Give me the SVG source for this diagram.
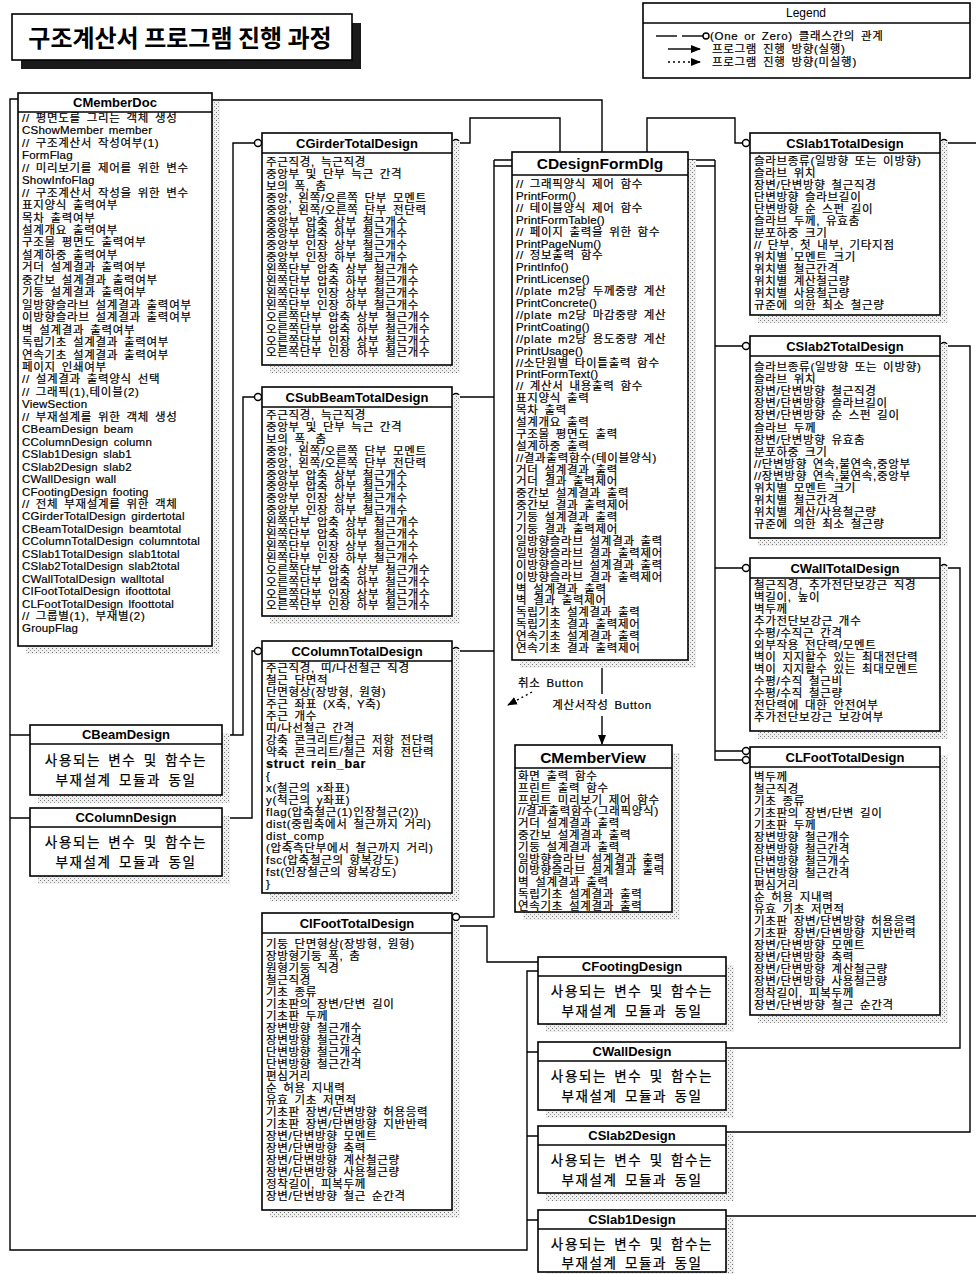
<svg xmlns="http://www.w3.org/2000/svg" width="976" height="1274" viewBox="0 0 976 1274">
<style>
.box{fill:#fff;stroke:#000;stroke-width:1.6}
.sh{fill:url(#dots)}
.hl{stroke:#000;stroke-width:1.4}
.hd{font-family:"Liberation Sans","Noto Sans CJK KR",sans-serif;font-weight:bold;font-size:13px;text-anchor:middle}
.hb{font-family:"Liberation Sans","Noto Sans CJK KR",sans-serif;font-weight:bold;font-size:15.5px;text-anchor:middle}
.t{font-family:"Liberation Sans","Noto Sans CJK KR",sans-serif;font-size:11.5px;word-spacing:2px;letter-spacing:0.7px;stroke:#000;stroke-width:0.2}
.la{letter-spacing:0.2px}
.tc{font-family:"Liberation Sans","Noto Sans CJK KR",sans-serif;font-size:13.5px;text-anchor:middle;word-spacing:2px;letter-spacing:1.6px;stroke:#000;stroke-width:0.25}
.ln{fill:none;stroke:#000;stroke-width:1.4}
.cir{fill:#fff;stroke:#000;stroke-width:1.4}
</style>
<defs>
<pattern id="dots" width="4" height="4" patternUnits="userSpaceOnUse"><rect width="4" height="4" fill="#efefef"/><rect width="1" height="1" fill="#777"/><rect x="2" y="2" width="1" height="1" fill="#999"/></pattern>
<marker id="ah" markerWidth="10" markerHeight="10" refX="9" refY="5" orient="auto" markerUnits="userSpaceOnUse"><path d="M0,1 L10,5 L0,9 Z" fill="#000"/></marker>
</defs>

<g id="title">
<rect x="21" y="23" width="340" height="46" fill="#1a1a1a"/>
<rect x="12" y="14" width="340" height="46" class="box"/>
<text x="180" y="47" font-family="'Noto Sans CJK KR',sans-serif" font-weight="bold" font-size="24" text-anchor="middle">구조계산서 프로그램 진행 과정</text>
</g>

<g id="legend">
<rect x="643" y="3" width="327" height="75" class="box"/>
<line x1="643" y1="23" x2="970" y2="23" class="hl"/>
<text x="806" y="17" font-family="Liberation Sans,sans-serif" font-size="12" text-anchor="middle">Legend</text>
<line x1="656" y1="36" x2="677" y2="36" class="ln"/>
<line x1="682" y1="36" x2="703" y2="36" class="ln"/>
<circle cx="706" cy="36" r="3" class="cir"/>
<text x="710" y="40" class="t">(One or Zero) 클래스간의 관계</text>
<line x1="668" y1="49" x2="700" y2="49" class="ln" marker-end="url(#ah)"/>
<text x="712" y="53" class="t">프로그램 진행 방향(실행)</text>
<line x1="668" y1="62" x2="700" y2="62" class="ln" stroke-dasharray="2,3" marker-end="url(#ah)"/>
<text x="712" y="66" class="t">프로그램 진행 방향(미실행)</text>
</g>

<g id="connectors">
<path class="ln" d="M18,99 H10 V1250 H527 V971 H538"/>
<path class="ln" d="M527,1052 H538 M527,1136 H538 M527,1220 H538"/>
<path class="ln" d="M10,735 H30 M10,818 H30"/>
<path class="ln" d="M222,735 H243 V397 H254.5 M233,735 V143 H254.5"/>
<path class="ln" d="M222,818 H252 V651 H254.5"/>
<path class="ln" d="M459.5,143 H470 V118 H560 V152"/>
<path class="ln" d="M494,160 V917 H459.5 M459.5,397 H494 M459.5,651 H494 M494,160 H512 M494,166 H512"/>
<path class="ln" d="M459.5,926 H487 V962 H538"/>
<path class="ln" d="M647,152 V118 H735 V143 H742.5"/>
<path class="ln" d="M688,160 H715 M688,166 H715 M715,160 V760 H742.5 M715,346 H742.5 M715,568 H742.5 M715,751 H742.5"/>
<path class="ln" d="M212,100 H602 V152"/>
<path class="ln" d="M947.5,143 H976 M947.5,346 H970 V1132 H726 M947.5,568 H960 V1048 H726 M726,1216 H976"/>
<path class="ln" d="M602,660 V694 M602,716 V744" marker-end="url(#ah)"/>
<path class="ln" d="M532,692 L508,705" stroke-dasharray="2,3" marker-end="url(#ah)"/>
<circle cx="258" cy="143" r="3.5" class="cir"/><circle cx="456" cy="143" r="3.5" class="cir"/>
<circle cx="258" cy="397" r="3.5" class="cir"/><circle cx="456" cy="397" r="3.5" class="cir"/>
<circle cx="258" cy="651" r="3.5" class="cir"/><circle cx="456" cy="651" r="3.5" class="cir"/>
<circle cx="456" cy="917" r="3.5" class="cir"/><circle cx="456" cy="926" r="3.5" class="cir"/>
<circle cx="746" cy="143" r="3.5" class="cir"/><circle cx="944" cy="143" r="3.5" class="cir"/>
<circle cx="746" cy="346" r="3.5" class="cir"/><circle cx="944" cy="346" r="3.5" class="cir"/>
<circle cx="746" cy="568" r="3.5" class="cir"/><circle cx="944" cy="568" r="3.5" class="cir"/>
<circle cx="746" cy="751" r="3.5" class="cir"/><circle cx="746" cy="760" r="3.5" class="cir"/>
<text x="518" y="687" class="t">취소 Button</text>
<text x="602" y="709" class="t" text-anchor="middle">계산서작성 Button</text>
</g>

<g id="CMemberDoc">
<rect x="26" y="101" width="194" height="553" class="sh"/>
<rect x="18" y="93" width="194" height="553" class="box"/>
<line x1="18" y1="112" x2="212" y2="112" class="hl"/>
<text x="115" y="107" class="hd" font-size="12.5">CMemberDoc</text>
<text class="t" x="22" y="122"><tspan x="22">// 평면도를 그리는 객체 생성</tspan><tspan x="22" dy="12.45" class="la">CShowMember member</tspan><tspan x="22" dy="12.45">// 구조계산서 작성여부(1)</tspan><tspan x="22" dy="12.45" class="la">FormFlag</tspan><tspan x="22" dy="12.45">// 미리보기를 제어를 위한 변수</tspan><tspan x="22" dy="12.45" class="la">ShowInfoFlag</tspan><tspan x="22" dy="12.45">// 구조계산서 작성을 위한 변수</tspan><tspan x="22" dy="12.45">표지양식 출력여부</tspan><tspan x="22" dy="12.45">목차 출력여부</tspan><tspan x="22" dy="12.45">설계개요 출력여부</tspan><tspan x="22" dy="12.45">구조물 평면도 출력여부</tspan><tspan x="22" dy="12.45">설계하중 출력여부</tspan><tspan x="22" dy="12.45">거더 설계결과 출력여부</tspan><tspan x="22" dy="12.45">중간보 설계결과 출력여부</tspan><tspan x="22" dy="12.45">기둥 설계결과 출력여부</tspan><tspan x="22" dy="12.45">일방향슬라브 설계결과 출력여부</tspan><tspan x="22" dy="12.45">이방향슬라브 설계결과 출력여부</tspan><tspan x="22" dy="12.45">벽 설계결과 출력여부</tspan><tspan x="22" dy="12.45">독립기초 설계결과 출력여부</tspan><tspan x="22" dy="12.45">연속기초 설계결과 출력여부</tspan><tspan x="22" dy="12.45">페이지 인쇄여부</tspan><tspan x="22" dy="12.45">// 설계결과 출력양식 선택</tspan><tspan x="22" dy="12.45">// 그래픽(1),테이블(2)</tspan><tspan x="22" dy="12.45" class="la">ViewSection</tspan><tspan x="22" dy="12.45">// 부재설계를 위한 객체 생성</tspan><tspan x="22" dy="12.45" class="la">CBeamDesign beam</tspan><tspan x="22" dy="12.45" class="la">CColumnDesign column</tspan><tspan x="22" dy="12.45" class="la">CSlab1Design slab1</tspan><tspan x="22" dy="12.45" class="la">CSlab2Design slab2</tspan><tspan x="22" dy="12.45" class="la">CWallDesign wall</tspan><tspan x="22" dy="12.45" class="la">CFootingDesign footing</tspan><tspan x="22" dy="12.45">// 전체 부재설계를 위한 객체</tspan><tspan x="22" dy="12.45" class="la">CGirderTotalDesign girdertotal</tspan><tspan x="22" dy="12.45" class="la">CBeamTotalDesign beamtotal</tspan><tspan x="22" dy="12.45" class="la">CColumnTotalDesign columntotal</tspan><tspan x="22" dy="12.45" class="la">CSlab1TotalDesign slab1total</tspan><tspan x="22" dy="12.45" class="la">CSlab2TotalDesign slab2total</tspan><tspan x="22" dy="12.45" class="la">CWallTotalDesign walltotal</tspan><tspan x="22" dy="12.45" class="la">CIFootTotalDesign ifoottotal</tspan><tspan x="22" dy="12.45" class="la">CLFootTotalDesign lfoottotal</tspan><tspan x="22" dy="12.45">// 그룹별(1), 부재별(2)</tspan><tspan x="22" dy="12.45" class="la">GroupFlag</tspan></text>
</g>

<g id="CGirderTotalDesign">
<rect x="270" y="141" width="190" height="232" class="sh"/>
<rect x="262" y="133" width="190" height="232" class="box"/>
<line x1="262" y1="153" x2="452" y2="153" class="hl"/>
<text x="357" y="148" class="hd">CGirderTotalDesign</text>
<text class="t" x="266" y="166"><tspan x="266">주근직경, 늑근직경</tspan><tspan x="266" dy="11.9">중앙부 및 단부 늑근 간격</tspan><tspan x="266" dy="11.9">보의 폭, 춤</tspan><tspan x="266" dy="11.9">중앙, 왼쪽/오른쪽 단부 모멘트</tspan><tspan x="266" dy="11.9">중앙, 왼쪽/오른쪽 단부 전단력</tspan><tspan x="266" dy="11.9">중앙부 압축 상부 철근개수</tspan><tspan x="266" dy="11.9">중앙부 압축 하부 철근개수</tspan><tspan x="266" dy="11.9">중앙부 인장 상부 철근개수</tspan><tspan x="266" dy="11.9">중앙부 인장 하부 철근개수</tspan><tspan x="266" dy="11.9">왼쪽단부 압축 상부 철근개수</tspan><tspan x="266" dy="11.9">왼쪽단부 압축 하부 철근개수</tspan><tspan x="266" dy="11.9">왼쪽단부 인장 상부 철근개수</tspan><tspan x="266" dy="11.9">왼쪽단부 인장 하부 철근개수</tspan><tspan x="266" dy="11.9">오른쪽단부 압축 상부 철근개수</tspan><tspan x="266" dy="11.9">오른쪽단부 압축 하부 철근개수</tspan><tspan x="266" dy="11.9">오른쪽단부 인장 상부 철근개수</tspan><tspan x="266" dy="11.9">오른쪽단부 인장 하부 철근개수</tspan></text>
</g>

<g id="CSubBeamTotalDesign">
<rect x="270" y="395" width="190" height="229" class="sh"/>
<rect x="262" y="387" width="190" height="229" class="box"/>
<line x1="262" y1="407" x2="452" y2="407" class="hl"/>
<text x="357" y="402" class="hd">CSubBeamTotalDesign</text>
<text class="t" x="266" y="419"><tspan x="266">주근직경, 늑근직경</tspan><tspan x="266" dy="11.9">중앙부 및 단부 늑근 간격</tspan><tspan x="266" dy="11.9">보의 폭, 춤</tspan><tspan x="266" dy="11.9">중앙, 왼쪽/오른쪽 단부 모멘트</tspan><tspan x="266" dy="11.9">중앙, 왼쪽/오른쪽 단부 전단력</tspan><tspan x="266" dy="11.9">중앙부 압축 상부 철근개수</tspan><tspan x="266" dy="11.9">중앙부 압축 하부 철근개수</tspan><tspan x="266" dy="11.9">중앙부 인장 상부 철근개수</tspan><tspan x="266" dy="11.9">중앙부 인장 하부 철근개수</tspan><tspan x="266" dy="11.9">왼쪽단부 압축 상부 철근개수</tspan><tspan x="266" dy="11.9">왼쪽단부 압축 하부 철근개수</tspan><tspan x="266" dy="11.9">왼쪽단부 인장 상부 철근개수</tspan><tspan x="266" dy="11.9">왼쪽단부 인장 하부 철근개수</tspan><tspan x="266" dy="11.9">오른쪽단부 압축 상부 철근개수</tspan><tspan x="266" dy="11.9">오른쪽단부 압축 하부 철근개수</tspan><tspan x="266" dy="11.9">오른쪽단부 인장 상부 철근개수</tspan><tspan x="266" dy="11.9">오른쪽단부 인장 하부 철근개수</tspan></text>
</g>

<g id="CColumnTotalDesign">
<rect x="270" y="649" width="190" height="252" class="sh"/>
<rect x="262" y="641" width="190" height="252" class="box"/>
<line x1="262" y1="661" x2="452" y2="661" class="hl"/>
<text x="357" y="656" class="hd">CColumnTotalDesign</text>
<text class="t" x="266" y="672"><tspan x="266">주근직경, 띠/나선철근 직경</tspan><tspan x="266" dy="12">철근 단면적</tspan><tspan x="266" dy="12">단면형상(장방형, 원형)</tspan><tspan x="266" dy="12">주근 좌표 (X축, Y축)</tspan><tspan x="266" dy="12">주근 개수</tspan><tspan x="266" dy="12">띠/나선철근 간격</tspan><tspan x="266" dy="12">강축 콘크리트/철근 저항 전단력</tspan><tspan x="266" dy="12">약축 콘크리트/철근 저항 전단력</tspan><tspan x="266" dy="12" font-weight="bold" font-size="12.5">struct rein_bar</tspan><tspan x="266" dy="12">{</tspan><tspan x="266" dy="12">x(철근의 x좌표)</tspan><tspan x="266" dy="12">y(척근의 y좌표)</tspan><tspan x="266" dy="12">flag(압축철근(1)인장철근(2))</tspan><tspan x="266" dy="12">dist(중립축에서 철근까지 거리)</tspan><tspan x="266" dy="12">dist_comp</tspan><tspan x="266" dy="12">(압축측단부에서 철근까지 거리)</tspan><tspan x="266" dy="12">fsc(압축철근의 항복강도)</tspan><tspan x="266" dy="12">fst(인장철근의 항복강도)</tspan><tspan x="266" dy="12">}</tspan></text>
</g>

<g id="CIFootTotalDesign">
<rect x="270" y="921" width="190" height="297" class="sh"/>
<rect x="262" y="913" width="190" height="297" class="box"/>
<line x1="262" y1="933" x2="452" y2="933" class="hl"/>
<text x="357" y="928" class="hd">CIFootTotalDesign</text>
<text class="t" x="266" y="948"><tspan x="266">기둥 단면형상(장방형, 원형)</tspan><tspan x="266" dy="12">장방형기둥 폭, 춤</tspan><tspan x="266" dy="12">원형기둥 직경</tspan><tspan x="266" dy="12">철근직경</tspan><tspan x="266" dy="12">기초 종류</tspan><tspan x="266" dy="12">기초판의 장변/단변 길이</tspan><tspan x="266" dy="12">기초판 두께</tspan><tspan x="266" dy="12">장변방향 철근개수</tspan><tspan x="266" dy="12">장변방향 철근간격</tspan><tspan x="266" dy="12">단변방향 철근개수</tspan><tspan x="266" dy="12">단변방향 철근간격</tspan><tspan x="266" dy="12">편심거리</tspan><tspan x="266" dy="12">순 허용 지내력</tspan><tspan x="266" dy="12">유효 기초 저면적</tspan><tspan x="266" dy="12">기초판 장변/단변방향 허용응력</tspan><tspan x="266" dy="12">기초판 장변/단변방향 지반반력</tspan><tspan x="266" dy="12">장변/단변방향 모멘트</tspan><tspan x="266" dy="12">장변/단변방향 축력</tspan><tspan x="266" dy="12">장변/단변방향 계산철근량</tspan><tspan x="266" dy="12">장변/단변방향 사용철근량</tspan><tspan x="266" dy="12">정착길이, 피복두께</tspan><tspan x="266" dy="12">장변/단변방향 철근 순간격</tspan></text>
</g>

<g id="CDesignFormDlg">
<rect x="520" y="160" width="176" height="508" class="sh"/>
<rect x="512" y="152" width="176" height="508" class="box"/>
<line x1="512" y1="175" x2="688" y2="175" class="hl"/>
<text x="600" y="169" class="hb">CDesignFormDlg</text>
<text class="t" x="516" y="188"><tspan x="516">// 그래픽양식 제어 함수</tspan><tspan x="516" dy="11.9" class="la">PrintForm()</tspan><tspan x="516" dy="11.9">// 테이블양식 제어 함수</tspan><tspan x="516" dy="11.9" class="la">PrintFormTable()</tspan><tspan x="516" dy="11.9">// 페이지 출력을 위한 함수</tspan><tspan x="516" dy="11.9" class="la">PrintPageNum()</tspan><tspan x="516" dy="11.9">// 정보출력 함수</tspan><tspan x="516" dy="11.9" class="la">PrintInfo()</tspan><tspan x="516" dy="11.9" class="la">PrintLicense()</tspan><tspan x="516" dy="11.9">//plate m2당 두께중량 계산</tspan><tspan x="516" dy="11.9" class="la">PrintConcrete()</tspan><tspan x="516" dy="11.9">//plate m2당 마감중량 계산</tspan><tspan x="516" dy="11.9" class="la">PrintCoating()</tspan><tspan x="516" dy="11.9">//plate m2당 용도중량 계산</tspan><tspan x="516" dy="11.9" class="la">PrintUsage()</tspan><tspan x="516" dy="11.9">//소단원별 타이틀출력 함수</tspan><tspan x="516" dy="11.9" class="la">PrintFormText()</tspan><tspan x="516" dy="11.9">// 계산서 내용출력 함수</tspan><tspan x="516" dy="11.9">표지양식 출력</tspan><tspan x="516" dy="11.9">목차 출력</tspan><tspan x="516" dy="11.9">설계개요 출력</tspan><tspan x="516" dy="11.9">구조물 평면도 출력</tspan><tspan x="516" dy="11.9">설계하중 출력</tspan><tspan x="516" dy="11.9">//결과출력함수(테이블양식)</tspan><tspan x="516" dy="11.9">거더 설계결과 출력</tspan><tspan x="516" dy="11.9">거더 결과 출력제어</tspan><tspan x="516" dy="11.9">중간보 설계결과 출력</tspan><tspan x="516" dy="11.9">중간보 결과 출력제어</tspan><tspan x="516" dy="11.9">기둥 설계결과 출력</tspan><tspan x="516" dy="11.9">기둥 결과 출력제어</tspan><tspan x="516" dy="11.9">일방향슬라브 설계결과 출력</tspan><tspan x="516" dy="11.9">일방향슬라브 결과 출력제어</tspan><tspan x="516" dy="11.9">이방향슬라브 설계결과 출력</tspan><tspan x="516" dy="11.9">이방향슬라브 결과 출력제어</tspan><tspan x="516" dy="11.9">벽 설계결과 출력</tspan><tspan x="516" dy="11.9">벽 결과 출력제어</tspan><tspan x="516" dy="11.9">독립기초 설계결과 출력</tspan><tspan x="516" dy="11.9">독립기초 결과 출력제어</tspan><tspan x="516" dy="11.9">연속기초 설계결과 출력</tspan><tspan x="516" dy="11.9">연속기초 결과 출력제어</tspan></text>
</g>

<g id="CMemberView">
<rect x="523" y="753" width="157" height="167" class="sh"/>
<rect x="515" y="745" width="157" height="167" class="box"/>
<line x1="515" y1="768" x2="672" y2="768" class="hl"/>
<text x="593" y="763" class="hb" font-size="16">CMemberView</text>
<text class="t" x="518" y="780" letter-spacing="0.4"><tspan x="518">화면 출력 함수</tspan><tspan x="518" dy="11.8">프린트 출력 함수</tspan><tspan x="518" dy="11.8">프린트 미리보기 제어 함수</tspan><tspan x="518" dy="11.8">//결과출력함수(그래픽양식)</tspan><tspan x="518" dy="11.8">거더 설계결과 출력</tspan><tspan x="518" dy="11.8">중간보 설계결과 출력</tspan><tspan x="518" dy="11.8">기둥 설계결과 출력</tspan><tspan x="518" dy="11.8">일방향슬라브 설계결과 출력</tspan><tspan x="518" dy="11.8">이방향슬라브 설계결과 출력</tspan><tspan x="518" dy="11.8">벽 설계결과 출력</tspan><tspan x="518" dy="11.8">독립기초 설계결과 출력</tspan><tspan x="518" dy="11.8">연속기초 설계결과 출력</tspan></text>
</g>

<g id="CSlab1TotalDesign">
<rect x="758" y="141" width="190" height="182" class="sh"/>
<rect x="750" y="133" width="190" height="182" class="box"/>
<line x1="750" y1="153" x2="940" y2="153" class="hl"/>
<text x="845" y="148" class="hd">CSlab1TotalDesign</text>
<text class="t" x="754" y="165"><tspan x="754">슬라브종류(일방향 또는 이방향)</tspan><tspan x="754" dy="12">슬라브 위치</tspan><tspan x="754" dy="12">장변/단변방향 철근직경</tspan><tspan x="754" dy="12">단변방향 슬라브길이</tspan><tspan x="754" dy="12">단변방향 순 스펀 길이</tspan><tspan x="754" dy="12">슬라브 두께, 유효춤</tspan><tspan x="754" dy="12">분포하중 크기</tspan><tspan x="754" dy="12">// 단부, 첫 내부, 기타지점</tspan><tspan x="754" dy="12">위치별 모멘트 크기</tspan><tspan x="754" dy="12">위치별 철근간격</tspan><tspan x="754" dy="12">위치별 계산철근량</tspan><tspan x="754" dy="12">위치별 사용철근량</tspan><tspan x="754" dy="12">규준에 의한 최소 철근량</tspan></text>
</g>

<g id="CSlab2TotalDesign">
<rect x="758" y="344" width="190" height="202" class="sh"/>
<rect x="750" y="336" width="190" height="202" class="box"/>
<line x1="750" y1="356" x2="940" y2="356" class="hl"/>
<text x="845" y="351" class="hd">CSlab2TotalDesign</text>
<text class="t" x="754" y="371"><tspan x="754">슬라브종류(일방향 또는 이방향)</tspan><tspan x="754" dy="12.1">슬라브 위치</tspan><tspan x="754" dy="12.1">장변/단변방향 철근직경</tspan><tspan x="754" dy="12.1">장변/단변방향 슬라브길이</tspan><tspan x="754" dy="12.1">장변/단변방향 순 스펀 길이</tspan><tspan x="754" dy="12.1">슬라브 두께</tspan><tspan x="754" dy="12.1">장변/단변방향 유효춤</tspan><tspan x="754" dy="12.1">분포하중 크기</tspan><tspan x="754" dy="12.1">//단변방향 연속,불연속,중앙부</tspan><tspan x="754" dy="12.1">//장변방향 연속,불연속,중앙부</tspan><tspan x="754" dy="12.1">위치별 모멘트 크기</tspan><tspan x="754" dy="12.1">위치별 철근간격</tspan><tspan x="754" dy="12.1">위치별 계산/사용철근량</tspan><tspan x="754" dy="12.1">규준에 의한 최소 철근량</tspan></text>
</g>

<g id="CWallTotalDesign">
<rect x="758" y="566" width="190" height="173" class="sh"/>
<rect x="750" y="558" width="190" height="173" class="box"/>
<line x1="750" y1="578" x2="940" y2="578" class="hl"/>
<text x="845" y="573" class="hd">CWallTotalDesign</text>
<text class="t" x="754" y="589"><tspan x="754">철근직경, 추가전단보강근 직경</tspan><tspan x="754" dy="12">벽길이, 높이</tspan><tspan x="754" dy="12">벽두께</tspan><tspan x="754" dy="12">추가전단보강근 개수</tspan><tspan x="754" dy="12">수평/수직근 간격</tspan><tspan x="754" dy="12">외부작용 전단력/모멘트</tspan><tspan x="754" dy="12">벽이 지지할수 있는 최대전단력</tspan><tspan x="754" dy="12">벽이 지지할수 있는 최대모멘트</tspan><tspan x="754" dy="12">수평/수직 철근비</tspan><tspan x="754" dy="12">수평/수직 철근량</tspan><tspan x="754" dy="12">전단력에 대한 안전여부</tspan><tspan x="754" dy="12">추가전단보강근 보강여부</tspan></text>
</g>

<g id="CLFootTotalDesign">
<rect x="758" y="755" width="190" height="268" class="sh"/>
<rect x="750" y="747" width="190" height="268" class="box"/>
<line x1="750" y1="767" x2="940" y2="767" class="hl"/>
<text x="845" y="762" class="hd">CLFootTotalDesign</text>
<text class="t" x="754" y="781"><tspan x="754">벽두께</tspan><tspan x="754" dy="12">철근직경</tspan><tspan x="754" dy="12">기초 종류</tspan><tspan x="754" dy="12">기초판의 장변/단변 길이</tspan><tspan x="754" dy="12">기초판 두께</tspan><tspan x="754" dy="12">장변방향 철근개수</tspan><tspan x="754" dy="12">장변방향 철근간격</tspan><tspan x="754" dy="12">단변방향 철근개수</tspan><tspan x="754" dy="12">단변방향 철근간격</tspan><tspan x="754" dy="12">편심거리</tspan><tspan x="754" dy="12">순 허용 지내력</tspan><tspan x="754" dy="12">유효 기초 저면적</tspan><tspan x="754" dy="12">기초판 장변/단변방향 허용응력</tspan><tspan x="754" dy="12">기초판 장변/단변방향 지반반력</tspan><tspan x="754" dy="12">장변/단변방향 모멘트</tspan><tspan x="754" dy="12">장변/단변방향 축력</tspan><tspan x="754" dy="12">장변/단변방향 계산철근량</tspan><tspan x="754" dy="12">장변/단변방향 사용철근량</tspan><tspan x="754" dy="12">정착길이, 피복두께</tspan><tspan x="754" dy="12">장변/단변방향 철근 순간격</tspan></text>
</g>

<g id="CBeamDesign">
<rect x="38" y="733" width="192" height="70" class="sh"/>
<rect x="30" y="725" width="192" height="70" class="box"/>
<line x1="30" y1="744" x2="222" y2="744" class="hl"/>
<text x="126" y="739" class="hd">CBeamDesign</text>
<text class="tc" x="126" y="765">사용되는 변수 및 함수는</text>
<text class="tc" x="126" y="785">부재설계 모듈과 동일</text>
</g>

<g id="CColumnDesign">
<rect x="38" y="816" width="192" height="68" class="sh"/>
<rect x="30" y="808" width="192" height="68" class="box"/>
<line x1="30" y1="827" x2="222" y2="827" class="hl"/>
<text x="126" y="822" class="hd">CColumnDesign</text>
<text class="tc" x="126" y="847">사용되는 변수 및 함수는</text>
<text class="tc" x="126" y="867">부재설계 모듈과 동일</text>
</g>

<g id="CFootingDesign">
<rect x="546" y="965" width="188" height="67" class="sh"/>
<rect x="538" y="957" width="188" height="67" class="box"/>
<line x1="538" y1="976" x2="726" y2="976" class="hl"/>
<text x="632" y="971" class="hd">CFootingDesign</text>
<text class="tc" x="632" y="996">사용되는 변수 및 함수는</text>
<text class="tc" x="632" y="1016">부재설계 모듈과 동일</text>
</g>

<g id="CWallDesign">
<rect x="546" y="1050" width="188" height="68" class="sh"/>
<rect x="538" y="1042" width="188" height="68" class="box"/>
<line x1="538" y1="1061" x2="726" y2="1061" class="hl"/>
<text x="632" y="1056" class="hd">CWallDesign</text>
<text class="tc" x="632" y="1081">사용되는 변수 및 함수는</text>
<text class="tc" x="632" y="1101">부재설계 모듈과 동일</text>
</g>

<g id="CSlab2Design">
<rect x="546" y="1134" width="188" height="67" class="sh"/>
<rect x="538" y="1126" width="188" height="67" class="box"/>
<line x1="538" y1="1145" x2="726" y2="1145" class="hl"/>
<text x="632" y="1140" class="hd">CSlab2Design</text>
<text class="tc" x="632" y="1165">사용되는 변수 및 함수는</text>
<text class="tc" x="632" y="1185">부재설계 모듈과 동일</text>
</g>

<g id="CSlab1Design">
<rect x="546" y="1218" width="188" height="62" class="sh"/>
<rect x="538" y="1210" width="188" height="62" class="box"/>
<line x1="538" y1="1229" x2="726" y2="1229" class="hl"/>
<text x="632" y="1224" class="hd">CSlab1Design</text>
<text class="tc" x="632" y="1249">사용되는 변수 및 함수는</text>
<text class="tc" x="632" y="1268">부재설계 모듈과 동일</text>
</g>
</svg>
